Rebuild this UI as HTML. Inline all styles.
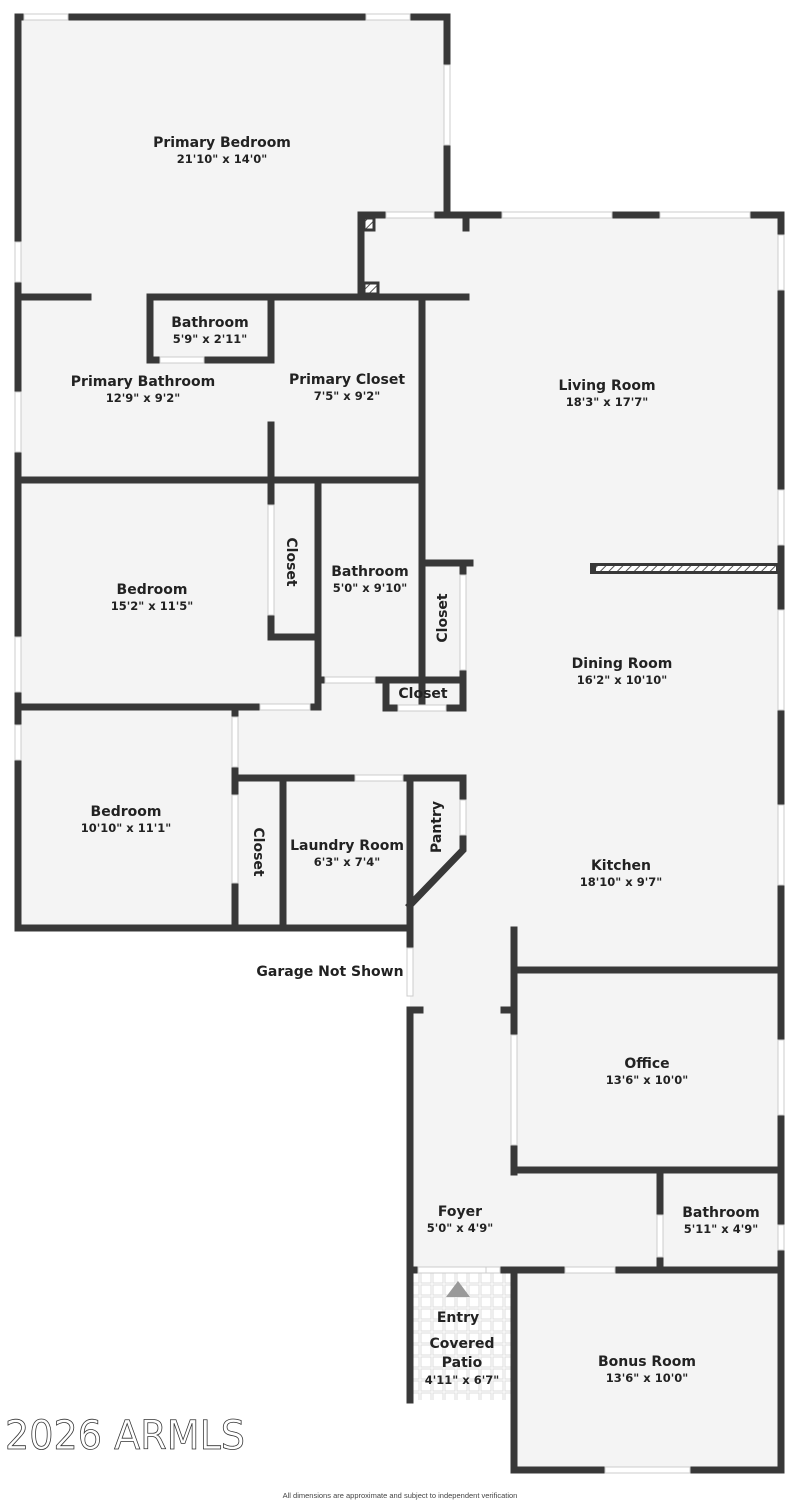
<!DOCTYPE html>
<html><head><meta charset="utf-8"><style>
html,body{margin:0;padding:0;background:#fff;}
svg{display:block}
.t{font-family:"DejaVu Sans","Liberation Sans",sans-serif;font-weight:bold;font-size:14px;fill:#222;text-anchor:middle}
.d{font-family:"DejaVu Sans","Liberation Sans",sans-serif;font-weight:bold;font-size:11.5px;fill:#222;text-anchor:middle}
</style></head><body>
<svg width="800" height="1503" viewBox="0 0 800 1503" xmlns="http://www.w3.org/2000/svg">
<defs>
<pattern id="tile" width="12" height="12" patternUnits="userSpaceOnUse">
<rect width="12" height="12" fill="#fff"/><rect x="1" y="1" width="10" height="10" fill="none" stroke="#ddd" stroke-width="1"/>
</pattern>
<pattern id="hatch" width="6" height="6" patternUnits="userSpaceOnUse" patternTransform="rotate(45)">
<rect width="6" height="6" fill="#fff"/><line x1="0" y1="0" x2="0" y2="6" stroke="#555" stroke-width="2"/>
</pattern>
</defs>
<polygon points="18,17 447,17 447,215 781,215 781,1470 514,1470 514,1400 410,1400 410,928 18,928" fill="#f4f4f4"/>
<rect x="413" y="1273" width="98" height="127" fill="url(#tile)"/>
<g stroke="#383838" stroke-width="7" stroke-linecap="square" fill="none">
<polyline points="18,928 18,17 447,17 447,215"/>
<line x1="361" y1="215" x2="781" y2="215"/>
<line x1="781" y1="215" x2="781" y2="1470"/>
<polyline points="410,1400 410,1010"/>
<line x1="410" y1="778" x2="410" y2="945"/>
<polyline points="514,1270 514,1470 781,1470"/>
<line x1="410" y1="1270" x2="781" y2="1270"/>
<line x1="361" y1="215" x2="361" y2="297"/>
<line x1="18" y1="297" x2="88" y2="297"/>
<line x1="150" y1="297" x2="466" y2="297"/>
<rect x="150" y="297" width="121" height="63"/>
<line x1="422" y1="297" x2="422" y2="708"/>
<line x1="18" y1="480" x2="422" y2="480"/>
<line x1="271" y1="425" x2="271" y2="505"/>
<line x1="271" y1="615" x2="271" y2="637"/>
<line x1="271" y1="637" x2="318" y2="637"/>
<line x1="318" y1="480" x2="318" y2="707"/>
<line x1="18" y1="707" x2="318" y2="707"/>
<line x1="318" y1="680" x2="463" y2="680"/>
<line x1="386" y1="680" x2="386" y2="708"/>
<line x1="386" y1="708" x2="463" y2="708"/>
<line x1="422" y1="563" x2="470" y2="563"/>
<line x1="463" y1="563" x2="463" y2="708"/>
<line x1="235" y1="707" x2="235" y2="928"/>
<line x1="235" y1="778" x2="463" y2="778"/>
<line x1="283" y1="778" x2="283" y2="928"/>
<line x1="18" y1="928" x2="410" y2="928"/>
<polyline points="463,778 463,850 410,905"/>
<line x1="514" y1="930" x2="514" y2="1172"/>
<line x1="514" y1="970" x2="781" y2="970"/>
<line x1="514" y1="1170" x2="781" y2="1170"/>
<line x1="660" y1="1170" x2="660" y2="1270"/>
<line x1="466" y1="215" x2="466" y2="228"/>
<line x1="410" y1="1010" x2="420" y2="1010"/>
<line x1="504" y1="1010" x2="514" y2="1010"/>
</g>
<rect x="590" y="563" width="191" height="11" fill="#383838"/>
<rect x="596" y="566" width="180" height="5" fill="url(#hatch)"/>
<rect x="364" y="218" width="10" height="12" fill="url(#hatch)" stroke="#383838" stroke-width="3"/>
<rect x="364" y="283" width="14" height="11" fill="url(#hatch)" stroke="#383838" stroke-width="3"/>
<g fill="#fff" stroke="#ccc" stroke-width="1">
<rect x="24" y="14" width="44" height="6"/><rect x="366" y="14" width="44" height="6"/>
<rect x="444" y="65" width="6" height="80"/>
<rect x="15" y="242" width="6" height="40"/><rect x="15" y="392" width="6" height="60"/>
<rect x="15" y="637" width="6" height="55"/><rect x="15" y="725" width="6" height="35"/>
<rect x="386" y="212" width="48" height="6"/><rect x="502" y="212" width="110" height="6"/><rect x="660" y="212" width="90" height="6"/>
<rect x="778" y="235" width="6" height="55"/><rect x="778" y="490" width="6" height="55"/>
<rect x="778" y="610" width="6" height="100"/><rect x="778" y="805" width="6" height="80"/>
<rect x="778" y="1040" width="6" height="75"/><rect x="778" y="1225" width="6" height="25"/>
<rect x="160" y="357" width="44" height="6"/>
<rect x="268" y="505" width="6" height="110"/>
<rect x="325" y="677" width="50" height="6"/><rect x="398" y="705" width="48" height="6"/>
<rect x="460" y="575" width="6" height="95"/>
<rect x="260" y="704" width="50" height="6"/>
<rect x="232" y="717" width="6" height="50"/><rect x="232" y="795" width="6" height="88"/>
<rect x="355" y="775" width="48" height="6"/><rect x="460" y="800" width="6" height="35"/>
<rect x="407" y="948" width="6" height="48"/>
<rect x="511" y="1035" width="6" height="110"/>
<rect x="657" y="1215" width="6" height="42"/>
<rect x="418" y="1267" width="68" height="6"/><rect x="486" y="1267" width="14" height="6"/>
<rect x="565" y="1267" width="50" height="6"/>
<rect x="605" y="1467" width="85" height="6"/>
</g>
<polygon points="458,1281 446,1297 470,1297" fill="#999"/>
<text class="t" x="222" y="147">Primary Bedroom</text><text class="d" x="222" y="163">21'10" x 14'0"</text>
<text class="t" x="210" y="327">Bathroom</text><text class="d" x="210" y="343">5'9" x 2'11"</text>
<text class="t" x="143" y="386">Primary Bathroom</text><text class="d" x="143" y="402">12'9" x 9'2"</text>
<text class="t" x="347" y="384">Primary Closet</text><text class="d" x="347" y="400">7'5" x 9'2"</text>
<text class="t" x="607" y="390">Living Room</text><text class="d" x="607" y="406">18'3" x 17'7"</text>
<text class="t" x="152" y="594">Bedroom</text><text class="d" x="152" y="610">15'2" x 11'5"</text>
<text class="t" x="370" y="576">Bathroom</text><text class="d" x="370" y="592">5'0" x 9'10"</text>
<text class="t" transform="translate(287,562) rotate(90)">Closet</text>
<text class="t" transform="translate(447,618) rotate(-90)">Closet</text>
<text class="t" x="423" y="698">Closet</text>
<text class="t" x="622" y="668">Dining Room</text><text class="d" x="622" y="684">16'2" x 10'10"</text>
<text class="t" x="126" y="816">Bedroom</text><text class="d" x="126" y="832">10'10" x 11'1"</text>
<text class="t" transform="translate(254,852) rotate(90)">Closet</text>
<text class="t" x="347" y="850">Laundry Room</text><text class="d" x="347" y="866">6'3" x 7'4"</text>
<text class="t" transform="translate(441,827) rotate(-90)">Pantry</text>
<text class="t" x="621" y="870">Kitchen</text><text class="d" x="621" y="886">18'10" x 9'7"</text>
<text class="t" x="330" y="976">Garage Not Shown</text>
<text class="t" x="647" y="1068">Office</text><text class="d" x="647" y="1084">13'6" x 10'0"</text>
<text class="t" x="460" y="1216">Foyer</text><text class="d" x="460" y="1232">5'0" x 4'9"</text>
<text class="t" x="721" y="1217">Bathroom</text><text class="d" x="721" y="1233">5'11" x 4'9"</text>
<text class="t" x="458" y="1322">Entry</text>
<text class="t" x="462" y="1348">Covered</text><text class="t" x="462" y="1367">Patio</text>
<text class="d" x="462" y="1384">4'11" x 6'7"</text>
<text class="t" x="647" y="1366">Bonus Room</text><text class="d" x="647" y="1382">13'6" x 10'0"</text>
<text x="5" y="1449" font-family="DejaVu Sans,Liberation Sans,sans-serif" font-size="40" fill="none" stroke="#333" stroke-width="0.8" textLength="240" lengthAdjust="spacingAndGlyphs">2026 ARMLS</text>
<text x="400" y="1498" font-family="Liberation Sans,sans-serif" font-size="7.5" fill="#444" text-anchor="middle">All dimensions are approximate and subject to independent verification</text>
</svg>
</body></html>
